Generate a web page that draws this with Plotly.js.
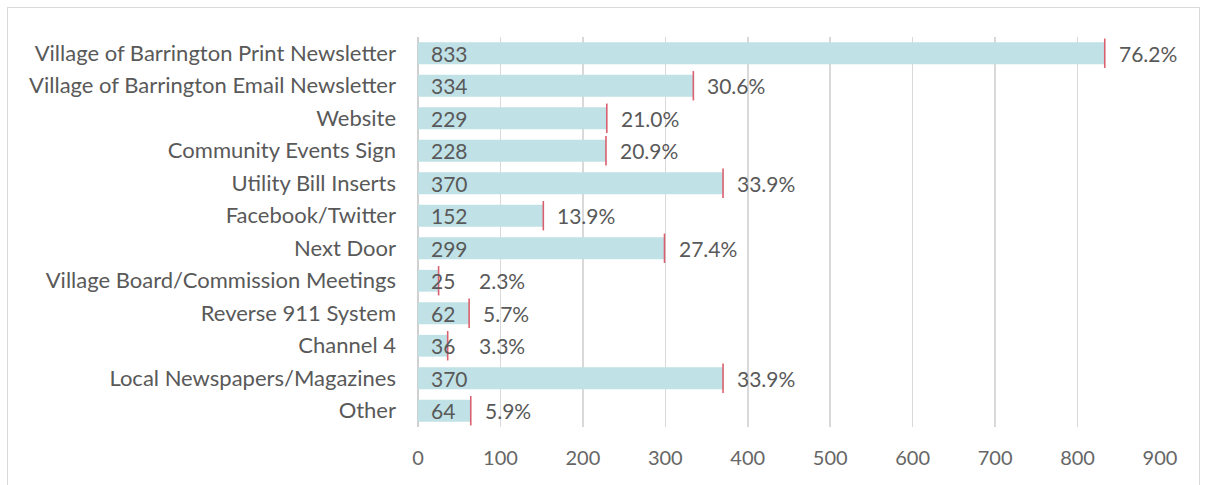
<!DOCTYPE html>
<html>
<head>
<meta charset="utf-8">
<script src="https://cdn.plot.ly/plotly-3.0.1.min.js"></script>
<style>
html,body{margin:0;padding:0;background:#fff;}
#frame{position:absolute;left:7px;top:7px;width:1193px;height:490px;border:1px solid #d9d9d9;box-sizing:border-box;}
#chart{position:absolute;left:0;top:0;width:1206px;height:485px;}
</style>
</head>
<body>
<div id="frame"></div>
<div id="chart"></div>
<script>
const categories = [
  "Village of Barrington Print Newsletter",
  "Village of Barrington Email Newsletter",
  "Website",
  "Community Events Sign",
  "Utility Bill Inserts",
  "Facebook/Twitter",
  "Next Door",
  "Village Board/Commission Meetings",
  "Reverse 911 System",
  "Channel 4",
  "Local Newspapers/Magazines",
  "Other"
];
const counts = [833, 334, 229, 228, 370, 152, 299, 25, 62, 36, 370, 64];
const percents = ["76.2%", "30.6%", "21.0%", "20.9%", "33.9%", "13.9%", "27.4%", "2.3%", "5.7%", "3.3%", "33.9%", "5.9%"];
const xTicks = [0, 100, 200, 300, 400, 500, 600, 700, 800, 900];

const FONT = "Lato, 'Open Sans', sans-serif";
const GRAY = "#595959";

const bars = {
  type: "bar", orientation: "h",
  x: counts, y: categories,
  marker: {color: "#c0e1e6"},
  hoverinfo: "skip", showlegend: false
};
const ticks = {
  type: "scatter", mode: "markers",
  x: counts, y: categories,
  marker: {symbol: "line-ns", size: 21, color: "#d9606e", line: {color: "#d9606e", width: 1.6}},
  hoverinfo: "skip", showlegend: false, cliponaxis: false
};

const pxPerUnit = (1160 - 418) / 900;
const annotations = [];
categories.forEach((c, i) => {
  annotations.push({
    x: 0, y: c, xref: "x", yref: "y", text: String(counts[i]),
    xanchor: "left", yanchor: "middle", xshift: 11, showarrow: false,
    font: {family: FONT, size: 21, color: GRAY}
  });
  const px = Math.max(counts[i] * pxPerUnit + 12, 59);
  annotations.push({
    x: px / pxPerUnit, y: c, xref: "x", yref: "y", text: percents[i],
    xanchor: "left", yanchor: "middle", showarrow: false,
    font: {family: FONT, size: 21, color: GRAY}
  });
});

const layout = {
  width: 1206, height: 485,
  margin: {l: 418, r: 46, t: 37, b: 58, pad: 0},
  paper_bgcolor: "rgba(0,0,0,0)", plot_bgcolor: "rgba(0,0,0,0)",
  bargap: 0.33,
  font: {family: FONT, size: 21, color: GRAY},
  xaxis: {
    range: [0, 900], tickvals: xTicks, ticktext: xTicks.map(String),
    showgrid: true, gridcolor: "#d9d9d9", gridwidth: 1.5,
    zeroline: true, zerolinecolor: "#d0d0d0", zerolinewidth: 1.5,
    showline: false, ticks: "", ticklabelstandoff: 17,
    tickfont: {family: FONT, size: 20, color: "#666666"},
    fixedrange: true
  },
  yaxis: {
    type: "category", range: [11.5, -0.5],
    showgrid: false, zeroline: false, showline: false, ticks: "",
    ticklabelstandoff: 21,
    tickfont: {family: FONT, size: 22, color: GRAY},
    fixedrange: true
  },
  annotations: annotations
};

Plotly.newPlot("chart", [bars, ticks], layout, {displayModeBar: false, staticPlot: true});
</script>
</body>
</html>
